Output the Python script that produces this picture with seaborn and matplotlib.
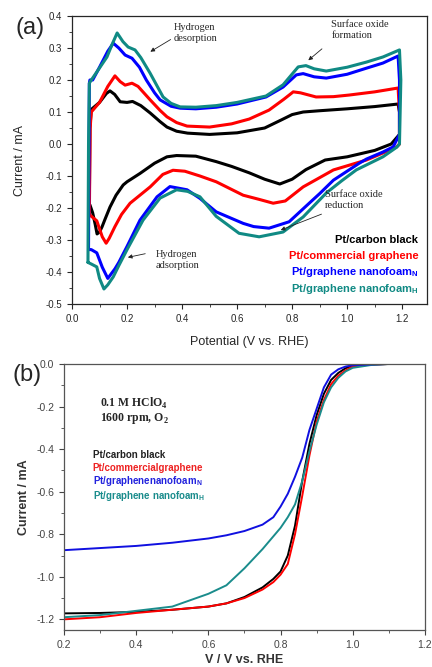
import numpy as np
import pandas as pd
import seaborn as sns
import matplotlib
matplotlib.use("Agg")
import matplotlib.pyplot as plt
from matplotlib.ticker import MultipleLocator

# ---- data: (a) cyclic voltammograms, closed loops (upper branch then lower branch)
samples = ["Pt/carbon black", "Pt/commercial graphene",
           "Pt/graphene nanofoam_N", "Pt/graphene nanofoam_H"]
colors = ["#000000", "#ff0000", "#0000ff", "#108a84"]

cv_black_v = [0.063, 0.065, 0.07, 0.1, 0.125, 0.138, 0.155, 0.175, 0.2, 0.22, 0.25, 0.284, 0.32,
              0.345, 0.38, 0.42, 0.5, 0.6, 0.7, 0.76, 0.8, 0.84, 0.9, 1.0, 1.1, 1.185, 1.19, 1.19,
              1.16, 1.1, 1.0, 0.92, 0.85, 0.8, 0.755, 0.7, 0.644, 0.58, 0.524, 0.45, 0.38, 0.345,
              0.3, 0.247, 0.2, 0.186, 0.16, 0.138, 0.12, 0.109, 0.1, 0.091, 0.084, 0.075, 0.065]
cv_black_i = [-0.19, 0.05, 0.108, 0.13, 0.158, 0.166, 0.155, 0.132, 0.13, 0.133, 0.12, 0.097, 0.07,
              0.053, 0.04, 0.034, 0.03, 0.035, 0.05, 0.075, 0.092, 0.1, 0.104, 0.11, 0.117, 0.125, 0.1, 0.03,
              0.0, -0.02, -0.04, -0.05, -0.08, -0.11, -0.125, -0.11, -0.09, -0.07, -0.055, -0.038, -0.036, -0.04,
              -0.06, -0.092, -0.118, -0.128, -0.16, -0.197, -0.235, -0.259, -0.275, -0.281, -0.25, -0.215, -0.19]

cv_red_v = [0.063, 0.066, 0.07, 0.1, 0.13, 0.156, 0.175, 0.193, 0.218, 0.24, 0.284, 0.32, 0.345,
            0.38, 0.418, 0.5, 0.58, 0.644, 0.716, 0.77, 0.804, 0.83, 0.887, 0.95, 1.007, 1.1, 1.185,
            1.19, 1.19, 1.18, 1.13, 1.07, 0.95, 0.84, 0.775, 0.731, 0.68, 0.622, 0.524, 0.465, 0.41,
            0.367, 0.33, 0.284, 0.211, 0.18, 0.156, 0.135, 0.124, 0.11, 0.09, 0.065]
cv_red_i = [-0.22, 0.05, 0.1, 0.13, 0.18, 0.213, 0.195, 0.184, 0.19, 0.18, 0.138, 0.105, 0.085,
            0.067, 0.056, 0.053, 0.063, 0.078, 0.106, 0.14, 0.163, 0.16, 0.147, 0.148, 0.153, 0.163, 0.175,
            0.1, 0.0, -0.009, -0.028, -0.05, -0.081, -0.134, -0.178, -0.185, -0.173, -0.16, -0.118, -0.1, -0.085,
            -0.082, -0.095, -0.134, -0.185, -0.22, -0.258, -0.295, -0.31, -0.29, -0.24, -0.222]

cv_blue_v = [0.06, 0.062, 0.063, 0.065, 0.075, 0.1, 0.13, 0.15, 0.17, 0.193, 0.218, 0.245, 0.27,
             0.3, 0.32, 0.36, 0.393, 0.45, 0.524, 0.6, 0.705, 0.767, 0.815, 0.84, 0.88, 0.924, 1.0,
             1.07, 1.13, 1.185, 1.19, 1.19, 1.167, 1.13, 1.07, 1.044, 0.95, 0.9, 0.862, 0.789, 0.716,
             0.66, 0.622, 0.524, 0.465, 0.418, 0.356, 0.309, 0.247, 0.2, 0.17, 0.156, 0.13, 0.11,
             0.09, 0.07, 0.06]
cv_blue_i = [-0.33, 0.0, 0.19, 0.2, 0.2, 0.24, 0.29, 0.315, 0.3, 0.278, 0.268, 0.24, 0.2,
             0.16, 0.138, 0.118, 0.112, 0.11, 0.115, 0.125, 0.147, 0.178, 0.216, 0.22, 0.21, 0.206, 0.218,
             0.237, 0.253, 0.275, 0.2, 0.03, -0.009, -0.025, -0.047, -0.06, -0.113, -0.155, -0.185, -0.243, -0.263,
             -0.258, -0.248, -0.212, -0.17, -0.143, -0.133, -0.165, -0.238, -0.32, -0.37, -0.39, -0.42, -0.385,
             -0.34, -0.33, -0.33]

cv_teal_v = [0.058, 0.06, 0.063, 0.07, 0.09, 0.127, 0.145, 0.164, 0.185, 0.204, 0.229, 0.25, 0.284,
             0.31, 0.331, 0.36, 0.393, 0.45, 0.524, 0.6, 0.705, 0.767, 0.822, 0.85, 0.88, 0.924, 1.0,
             1.07, 1.13, 1.19, 1.195, 1.19, 1.18, 1.13, 1.033, 0.98, 0.924, 0.84, 0.767, 0.68, 0.607,
             0.524, 0.465, 0.42, 0.38, 0.32, 0.258, 0.2, 0.17, 0.15, 0.13, 0.116, 0.1, 0.09, 0.07, 0.058]
cv_teal_i = [-0.37, 0.0, 0.19, 0.2, 0.225, 0.272, 0.31, 0.347, 0.32, 0.303, 0.294, 0.27, 0.221,
             0.18, 0.147, 0.127, 0.116, 0.115, 0.12, 0.13, 0.15, 0.185, 0.241, 0.245, 0.235, 0.228, 0.24,
             0.256, 0.272, 0.294, 0.2, 0.0, -0.01, -0.04, -0.081, -0.115, -0.153, -0.228, -0.275, -0.29, -0.279,
             -0.226, -0.165, -0.148, -0.143, -0.169, -0.238, -0.33, -0.38, -0.415, -0.44, -0.453, -0.42, -0.384,
             -0.375, -0.37]

# ---- data: (b) linear sweep voltammograms
lsv_v = [0.2, 0.3, 0.4, 0.5, 0.6, 0.65, 0.7, 0.75, 0.78, 0.8, 0.82, 0.84, 0.86, 0.88, 0.9,
         0.92, 0.94, 0.96, 0.98, 1.0, 1.05, 1.1, 1.2]
lsv_black = [-1.172, -1.17, -1.165, -1.155, -1.14, -1.125, -1.095, -1.05, -1.01, -0.975, -0.9,
             -0.76, -0.55, -0.375, -0.24, -0.14, -0.075, -0.042, -0.02, -0.008, -0.002, 0.0, 0.0]
lsv_red = [-1.2, -1.19, -1.17, -1.155, -1.14, -1.125, -1.1, -1.06, -1.025, -0.99, -0.94,
           -0.8, -0.62, -0.43, -0.27, -0.17, -0.095, -0.055, -0.03, -0.012, -0.003, 0.0, 0.0]
lsv_teal = [-1.19, -1.18, -1.16, -1.14, -1.08, -1.04, -0.96, -0.87, -0.81, -0.77, -0.72,
            -0.66, -0.55, -0.41, -0.285, -0.18, -0.11, -0.065, -0.035, -0.018, -0.005, 0.0, 0.0]
lsv_blue = [-0.875, -0.865, -0.855, -0.84, -0.82, -0.805, -0.785, -0.755, -0.72, -0.67, -0.61,
            -0.53, -0.44, -0.31, -0.21, -0.11, -0.05, -0.025, -0.012, -0.006, -0.002, 0.0, 0.0]

cv = pd.concat([
    pd.DataFrame({"V": v, "I": i, "sample": s})
    for v, i, s in zip([cv_black_v, cv_red_v, cv_blue_v, cv_teal_v],
                       [cv_black_i, cv_red_i, cv_blue_i, cv_teal_i], samples)
], ignore_index=True)

lsv_order = [samples[0], samples[1], samples[3], samples[2]]
lsv = pd.concat([
    pd.DataFrame({"V": lsv_v, "I": i, "sample": s})
    for i, s in zip([lsv_black, lsv_red, lsv_teal, lsv_blue], lsv_order)
], ignore_index=True)

sns.set_style("ticks")
plt.rcParams["font.family"] = ["Liberation Sans", "DejaVu Sans"]
plt.rcParams["mathtext.fontset"] = "custom"
plt.rcParams["mathtext.rm"] = "Liberation Sans"
plt.rcParams["mathtext.bf"] = "Liberation Sans:bold"
plt.rcParams["axes.unicode_minus"] = False

fig = plt.figure(figsize=(4.32, 6.67), dpi=100)
ax1 = fig.add_axes([0.1667, 0.5442, 0.8217, 0.4318])
ax2 = fig.add_axes([0.1481, 0.0555, 0.8356, 0.3988])

# ---- (a)
sns.lineplot(data=cv, x="V", y="I", hue="sample", hue_order=samples, palette=colors,
             sort=False, estimator=None, legend=False, linewidth=2.2, ax=ax1)
ax1.set_xlim(0, 1.29)
ax1.set_ylim(-0.5, 0.4)
ax1.xaxis.set_major_locator(MultipleLocator(0.2))
ax1.xaxis.set_minor_locator(MultipleLocator(0.1))
ax1.yaxis.set_major_locator(MultipleLocator(0.1))
ax1.yaxis.set_minor_locator(MultipleLocator(0.05))
ax1.tick_params(which="both", direction="out", labelsize=7, top=False, right=False)
ax1.tick_params(which="major", length=3.5, width=0.8)
ax1.tick_params(which="minor", length=2, width=0.6)
ax1.set_xlabel("Potential (V vs. RHE)", fontsize=9)
ax1.set_ylabel("Current / mA", fontsize=9)
ax1.yaxis.set_label_coords(-0.13, 0.5)
ax1.xaxis.set_label_coords(0.5, -0.11)
for sp in ax1.spines.values():
    sp.set_linewidth(0.9)

serif = ["Liberation Serif", "DejaVu Serif"]
arrow = dict(arrowstyle="-|>", color="#222222", lw=0.6, mutation_scale=6)
ax1.text(0.371, 0.347, "Hydrogen\ndesorption", family=serif, fontsize=7.5,
         ha="left", va="center", linespacing=1.3)
ax1.annotate("", xy=(0.276, 0.284), xytext=(0.367, 0.331), arrowprops=arrow)
ax1.text(0.942, 0.356, "Surface oxide\nformation", family=serif, fontsize=7.5,
         ha="left", va="center", linespacing=1.3)
ax1.annotate("", xy=(0.851, 0.256), xytext=(0.916, 0.303), arrowprops=arrow)
ax1.text(0.305, -0.3625, "Hydrogen\nadsorption", family=serif, fontsize=7.5,
         ha="left", va="center", linespacing=1.3)
ax1.annotate("", xy=(0.193, -0.356), xytext=(0.276, -0.341), arrowprops=arrow)
ax1.text(0.92, -0.175, "Surface oxide\nreduction", family=serif, fontsize=7.5,
         ha="left", va="center", linespacing=1.3)
ax1.annotate("", xy=(0.749, -0.272), xytext=(0.916, -0.216), arrowprops=arrow)

legend_a = ["Pt/carbon black", "Pt/commercial graphene",
            r"Pt/graphene nanofoam$_\mathbf{N}$", r"Pt/graphene nanofoam$_\mathbf{H}$"]
legend_a_y = [-0.3, -0.35, -0.4, -0.453]
for lab, c, yy in zip(legend_a, colors, legend_a_y):
    ax1.text(1.258, yy, lab, color=c, fontsize=8, fontweight="bold", ha="right", va="center")

fig.text(0.069, 0.958, "(a)", fontsize=17, ha="center", va="center")

# ---- (b)
lsv_colors = ["#000000", "#ff0000", "#1a8c8c", "#1010e0"]
sns.lineplot(data=lsv, x="V", y="I", hue="sample", hue_order=lsv_order, palette=lsv_colors,
             sort=False, estimator=None, legend=False, linewidth=1.4, ax=ax2)
ax2.set_xlim(0.2, 1.2)
ax2.set_ylim(-1.25, 0.0)
ax2.xaxis.set_major_locator(MultipleLocator(0.2))
ax2.xaxis.set_minor_locator(MultipleLocator(0.1))
ax2.yaxis.set_major_locator(MultipleLocator(0.2))
ax2.yaxis.set_minor_locator(MultipleLocator(0.1))
ax2.tick_params(which="both", direction="out", labelsize=7.5, colors="#444444",
                top=False, right=False)
ax2.tick_params(which="major", length=3.5, width=0.8)
ax2.tick_params(which="minor", length=2, width=0.6)
ax2.set_xlabel("V / V vs. RHE", fontsize=9, fontweight="bold", color="#333333")
ax2.set_ylabel("Current / mA", fontsize=9, fontweight="bold", color="#333333")
ax2.yaxis.set_label_coords(-0.095, 0.5)
ax2.xaxis.set_label_coords(0.5, -0.09)
for sp in ax2.spines.values():
    sp.set_linewidth(0.9)
    sp.set_color("#555555")

ax2.text(0.3, -0.184, r"0.1 M HClO$_\mathregular{4}$", family=serif, fontsize=8.5,
         fontweight="bold", ha="left", va="center")
ax2.text(0.3, -0.254, r"1600 rpm, O$_\mathregular{2}$", family=serif, fontsize=8.5,
         fontweight="bold", ha="left", va="center")
legend_b = ["Pt/carbon black", "Pt/commercialgraphene",
            r"Pt/graphenenanofoam$_\mathbf{N}$", r"Pt/graphene nanofoam$_\mathbf{H}$"]
legend_b_colors = ["#222222", "#ee2222", "#2222dd", "#1a8c8c"]
legend_b_y = [-0.428, -0.489, -0.551, -0.62]
for lab, c, yy in zip(legend_b, legend_b_colors, legend_b_y):
    ax2.text(0.28, yy, lab, color=c, fontsize=7, fontweight="bold", ha="left", va="center")

fig.text(0.0625, 0.438, "(b)", fontsize=17, ha="center", va="center")

fig.savefig("out.png", dpi=100)
